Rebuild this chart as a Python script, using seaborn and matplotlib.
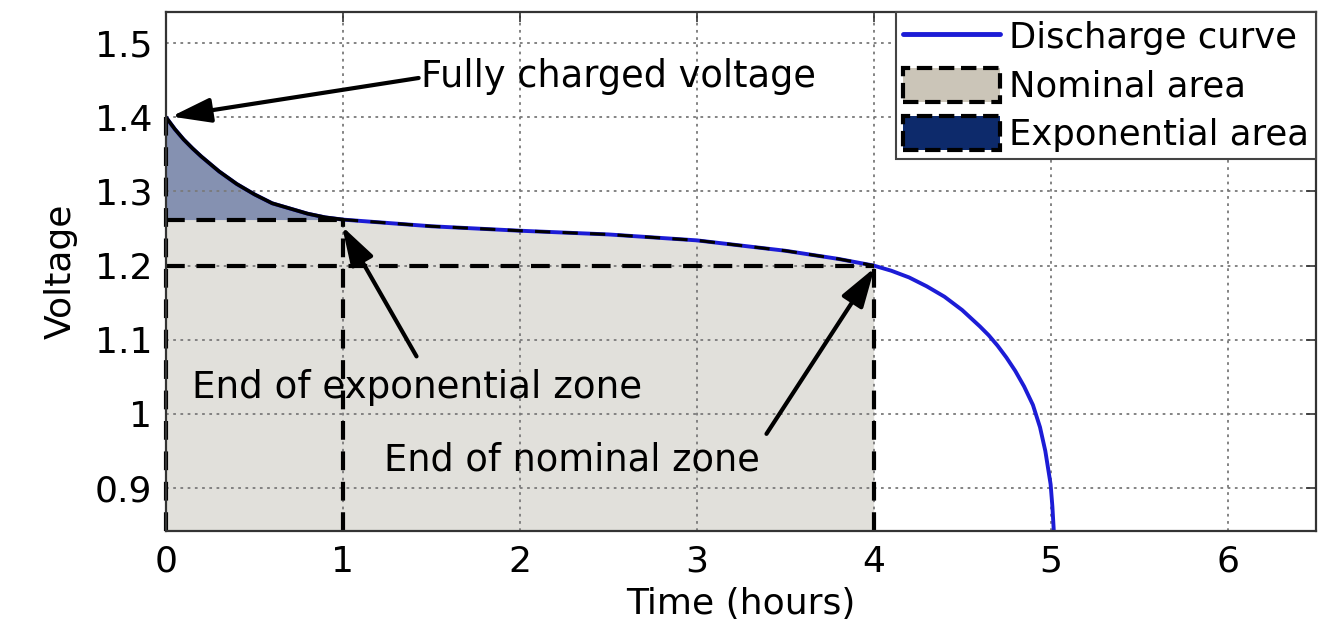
import numpy as np
import pandas as pd
import matplotlib
matplotlib.use("Agg")
import matplotlib.pyplot as plt
import seaborn as sns
from matplotlib.patches import Patch
from matplotlib.lines import Line2D

# ---------------- data ----------------
time_h = [0.0, 0.05, 0.1, 0.15, 0.2, 0.3, 0.4, 0.5, 0.6, 0.7, 0.8, 0.9, 1.0,
          1.5, 2.0, 2.5, 3.0, 3.5, 3.8, 4.0, 4.1, 4.2, 4.3, 4.4, 4.5, 4.6,
          4.65, 4.7, 4.75, 4.8, 4.85, 4.9, 4.94, 4.97, 5.0, 5.01, 5.018]
voltage = [1.400, 1.384, 1.370, 1.358, 1.347, 1.327, 1.310, 1.296, 1.284, 1.277,
           1.270, 1.265, 1.262, 1.253, 1.247, 1.242, 1.234, 1.220, 1.209, 1.200,
           1.193, 1.184, 1.172, 1.158, 1.140, 1.118, 1.106, 1.092, 1.076, 1.058,
           1.037, 1.012, 0.982, 0.950, 0.905, 0.875, 0.842]

exp_end = (1.0, 1.262)      # end of exponential zone (hours, volts)
nom_end = (4.0, 1.200)      # end of nominal zone
full_v = 1.40               # fully charged voltage

x_ticks = [0, 1, 2, 3, 4, 5, 6]
y_ticks = [0.9, 1.0, 1.1, 1.2, 1.3, 1.4, 1.5]
y_tick_labels = ["0.9", "1", "1.1", "1.2", "1.3", "1.4", "1.5"]
legend_labels = ["Discharge curve", "Nominal area", "Exponential area"]
annot_texts = ["Fully charged voltage", "End of exponential zone", "End of nominal zone"]

# ---------------- style ----------------
sns.set_style("white")
plt.rcParams["font.family"] = ["DejaVu Sans"]
plt.rcParams["text.color"] = "black"
plt.rcParams["axes.labelcolor"] = "black"
plt.rcParams["xtick.color"] = "black"
plt.rcParams["ytick.color"] = "black"

df = pd.DataFrame({"t": time_h, "v": voltage})
t = np.array(time_h)
v = np.array(voltage)
ylo, yhi = 0.842, 1.542

fig = plt.figure(figsize=(13.31, 6.28), dpi=100)
ax = fig.add_axes([166 / 1331, 97 / 628, 1150 / 1331, 519 / 628])

# fills
m_nom = t <= nom_end[0]
ax.fill_between(t[m_nom], ylo, np.minimum(v[m_nom], exp_end[1]),
                color="#e1e0db", lw=0, zorder=1)
m_exp = t <= exp_end[0]
ax.fill_between(t[m_exp], exp_end[1], v[m_exp], color="#8591b1", lw=0, zorder=1)

# discharge curve
sns.lineplot(data=df, x="t", y="v", ax=ax, color="#1c1cd6", lw=2.8, zorder=4,
             sort=True, estimator=None)

# borders of the areas
dash = (0, (4.5, 2.8))
ax.plot(t[m_exp], v[m_exp], color="black", lw=2.6, zorder=5)
m_mid = (t >= exp_end[0]) & (t <= nom_end[0])
ax.plot(t[m_mid], v[m_mid], color="black", lw=2.2, ls=(0, (5, 4)), zorder=5)
ax.plot([0, exp_end[0]], [exp_end[1], exp_end[1]], color="black", lw=3, ls=dash, zorder=5)
ax.plot([0, nom_end[0]], [nom_end[1], nom_end[1]], color="black", lw=3, ls=dash, zorder=5)
ax.plot([exp_end[0], exp_end[0]], [ylo, exp_end[1]], color="black", lw=3, ls=dash, zorder=5)
ax.plot([nom_end[0], nom_end[0]], [ylo, nom_end[1]], color="black", lw=3, ls=dash, zorder=5)
ax.plot([0, 0], [ylo, full_v], color="black", lw=3, ls=dash, zorder=6, clip_on=False)

# axes
ax.set_xlim(0, 6.5)
ax.set_ylim(ylo, yhi)
ax.set_xticks(x_ticks)
ax.set_xticklabels([str(x) for x in x_ticks])
ax.set_yticks(y_ticks)
ax.set_yticklabels(y_tick_labels)
ax.tick_params(direction="in", length=7, width=1.2, top=True, right=True,
               labelsize=26, pad=10, color="#333333", labelcolor="black")
ax.set_xlabel("Time (hours)", fontsize=26, labelpad=6, color="black")
ax.set_ylabel("Voltage", fontsize=26, labelpad=12, color="black")
ax.set_axisbelow(False)
ax.grid(True, ls=(0, (1.5, 2.5)), color="#7a7a7a", lw=1.3)
for s in ax.spines.values():
    s.set_color("#333333")
    s.set_linewidth(1.6)
    s.set_zorder(7)

# annotations
ap = dict(arrowstyle="-|>,head_length=0.8,head_width=0.25", color="black",
          lw=3, mutation_scale=30, shrinkA=0, shrinkB=0)
ax.annotate("", xy=(0.03, 1.401), xytext=(1.428, 1.453), arrowprops=ap, zorder=8)
ax.annotate("", xy=(0.995, 1.253), xytext=(1.416, 1.0775), arrowprops=ap, zorder=8)
ax.annotate("", xy=(4.005, 1.197), xytext=(3.394, 0.973), arrowprops=ap, zorder=8)
ax.text(1.44, 1.441, annot_texts[0], fontsize=26.5, va="baseline", ha="left", zorder=8,
        color="black")
ax.text(0.147, 1.022, annot_texts[1], fontsize=26.8, va="baseline", ha="left", zorder=8,
        color="black")
ax.text(1.23, 0.923, annot_texts[2], fontsize=26.5, va="baseline", ha="left", zorder=8,
        color="black")

# legend
handles = [
    Line2D([0], [0], color="#1c1cd6", lw=3.5),
    Patch(facecolor="#cbc5b8", edgecolor="black", ls="--", lw=3),
    Patch(facecolor="#0d2a6b", edgecolor="black", ls="--", lw=3),
]
leg = ax.legend(handles, legend_labels, loc="upper right", borderaxespad=0,
                fontsize=25.5, frameon=True, fancybox=False, handlelength=2.75,
                handleheight=1.1, handletextpad=0.25, borderpad=0.2,
                labelspacing=0.35)
for txt in leg.get_texts():
    txt.set_color("black")
leg.get_frame().set_edgecolor("#444444")
leg.get_frame().set_linewidth(1.5)
leg.get_frame().set_alpha(1)
leg.set_zorder(10)

fig.savefig("out.png", dpi=100)
